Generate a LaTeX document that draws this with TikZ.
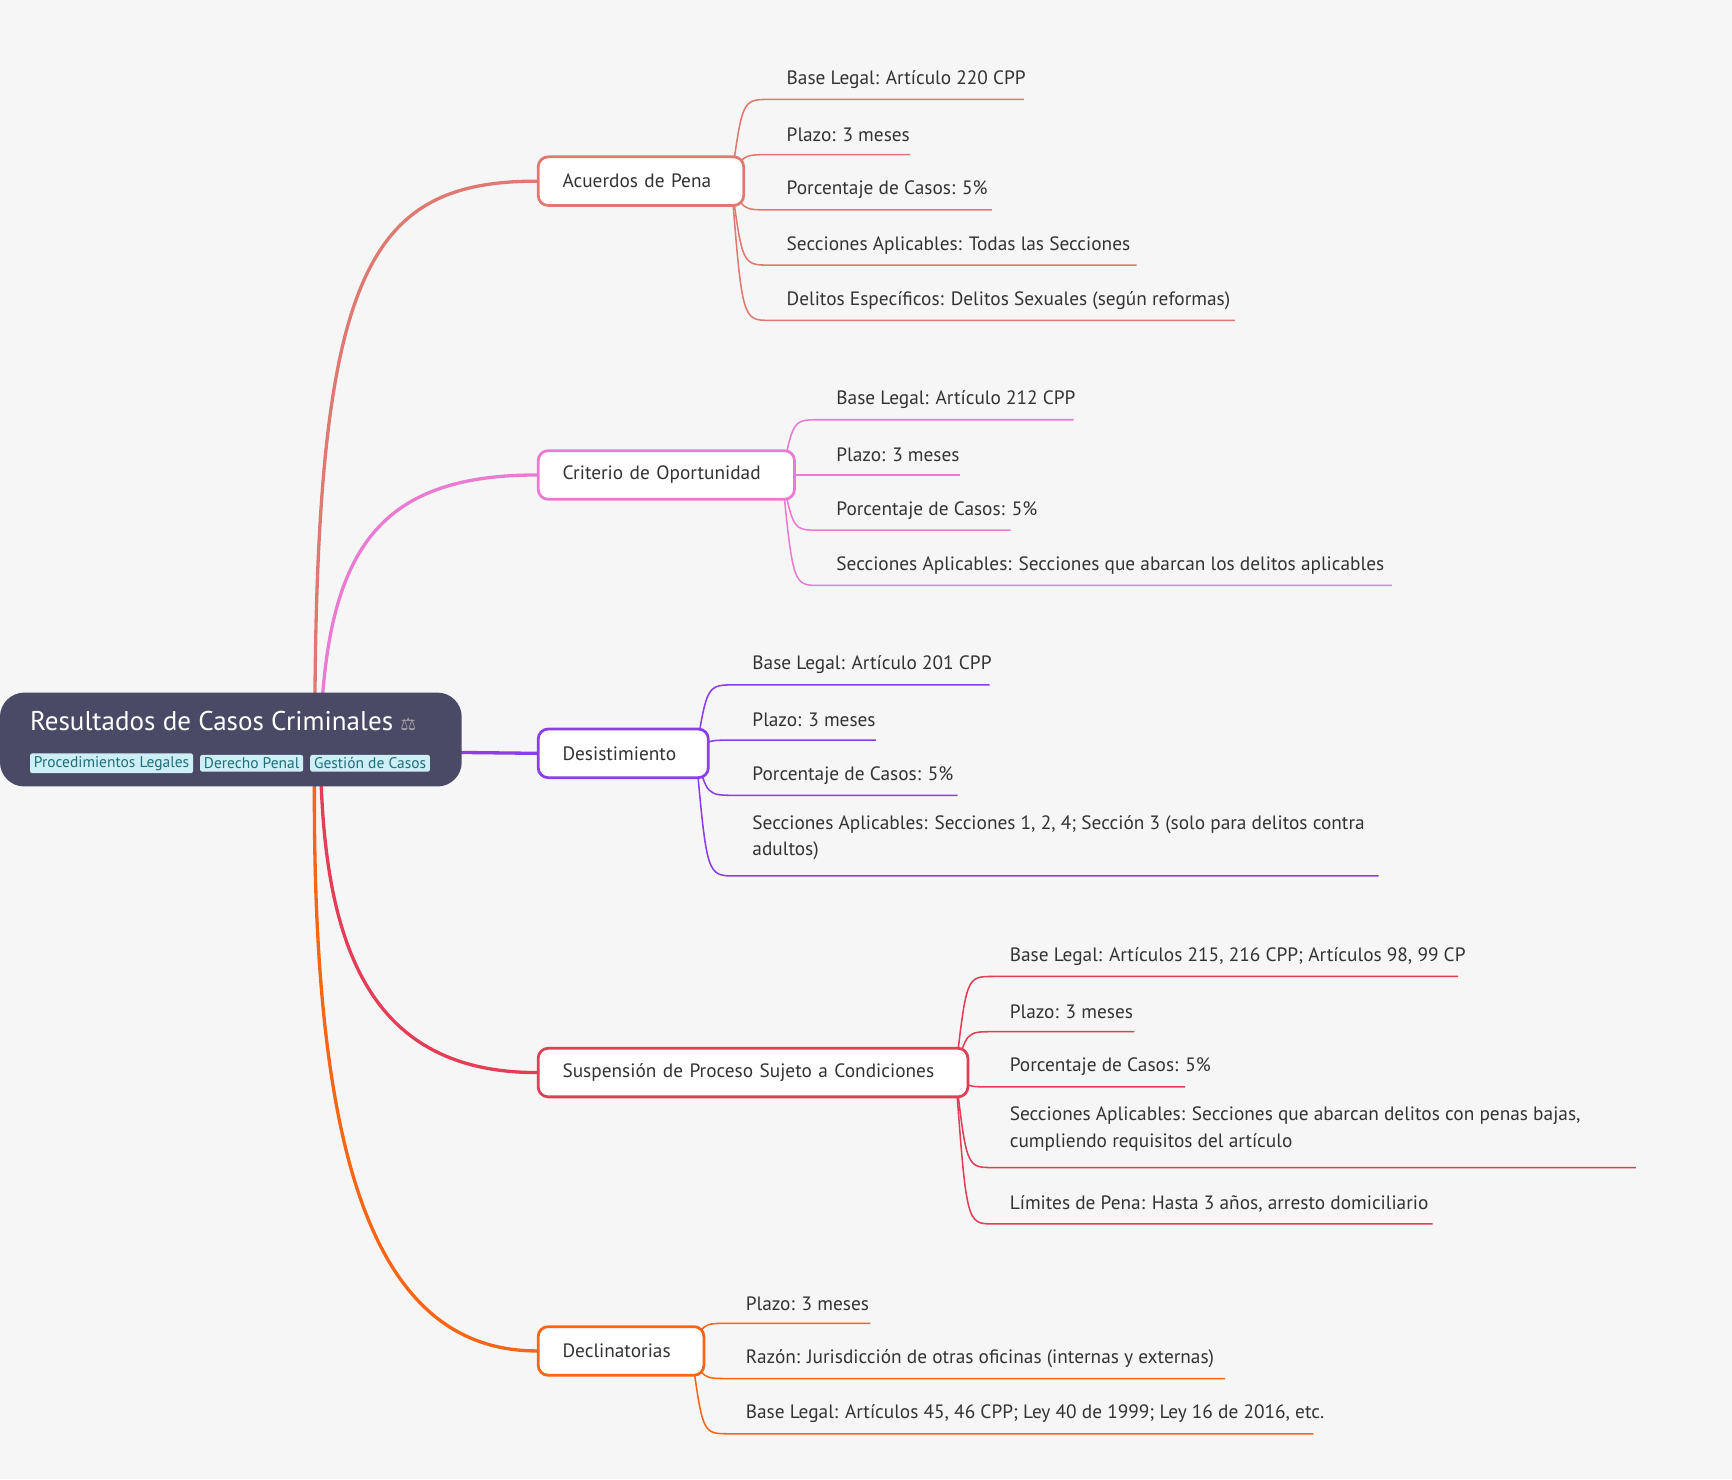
\documentclass[tikz,border=0pt]{standalone}
\usepackage{fontspec}
\setmainfont{PT Sans}
\newfontfamily\symfont{DejaVu Sans}
\definecolor{bg}{HTML}{F6F6F6}
\definecolor{rootc}{HTML}{4B4A66}
\definecolor{ca}{HTML}{DF7A72}
\definecolor{cb}{HTML}{E97CD2}
\definecolor{cc}{HTML}{8A3FE8}
\definecolor{cd}{HTML}{E23E57}
\definecolor{ce}{HTML}{F86514}
\definecolor{txt}{HTML}{333333}
\definecolor{tagbg}{HTML}{CDEFF5}
\definecolor{tagtx}{HTML}{1F6E7A}
\tikzset{
 branchbox/.style={draw=#1,fill=white,line width=2.5pt,rounded corners=9pt,minimum height=44pt,inner xsep=22pt,anchor=west,text=txt,align=left,font=\fontsize{17.5}{20}\selectfont},
 leaftext/.style={anchor=west,inner sep=0pt,text=txt,font=\fontsize{17.5}{24}\selectfont},
 mainline/.style={draw=#1,line width=3pt},
 leafline/.style={draw=#1,line width=1.4pt},
 tagbox/.style={fill=tagbg,text=tagtx,inner xsep=3.5pt,inner ysep=2.5pt,rounded corners=2pt,anchor=west,font=\fontsize{14}{15}\selectfont}
}
\newcommand{\leaf}[8]{% color, name, sx, sy, lx, ly, endx, text
 \node[leaftext] (#2) at (#5+15,#6-18) {#8};
 \draw[leafline=#1] (#3,#4) .. controls (#3+10,#6) .. (#5,#6) -- (#7,#6);
}
\begin{document}
\begin{tikzpicture}[x=1pt,y=-1pt]
\fill[bg] (0,0) rectangle (1568,1339);
% main connectors
\draw[mainline=ca] (285,669) .. controls (285,250) and (330,164) .. (486,164);
\draw[mainline=cb] (290,669) .. controls (295,500) and (340,430) .. (486,430);
\draw[mainline=cc] (400,681) -- (486,682);
\draw[mainline=cd] (290,669) .. controls (290,850) and (330,971) .. (486,971);
\draw[mainline=ce] (285,669) .. controls (280,1000) and (320,1223) .. (486,1223);
% root
\fill[rootc,rounded corners=22pt] (0,627) rectangle (418,712);
\node[anchor=west,inner sep=0pt,text=white,font=\fontsize{24.5}{28}\selectfont] (root) at (27,653) {Resultados de Casos Criminales {\symfont\fontsize{16}{18}\selectfont\color{gray!70} ⚖}};
\node[tagbox] (t1) at (27,691) {Procedimientos Legales};
\node[tagbox] (t2) at ([xshift=6pt]t1.east) {Derecho Penal};
\node[tagbox] (t3) at ([xshift=6pt]t2.east) {Gestión de Casos};
% leaves
\leaf{ca}{a1}{662}{164}{697}{90}{927}{Base Legal: Artículo 220 CPP}
\leaf{ca}{a2}{662}{164}{697}{140}{824}{Plazo: 3 meses}
\leaf{ca}{a3}{662}{164}{697}{190}{898}{Porcentaje de Casos: 5\%}
\leaf{ca}{a4}{662}{164}{697}{240}{1029}{Secciones Aplicables: Todas las Secciones}
\leaf{ca}{a5}{662}{164}{697}{290}{1118}{Delitos Específicos: Delitos Sexuales (según reformas)}
\leaf{cb}{b1}{708}{430}{742}{380}{972}{Base Legal: Artículo 212 CPP}
\leaf{cb}{b2}{708}{430}{742}{430}{869}{Plazo: 3 meses}
\leaf{cb}{b3}{708}{430}{742}{480}{915}{Porcentaje de Casos: 5\%}
\leaf{cb}{b4}{708}{430}{742}{530}{1260}{Secciones Aplicables: Secciones que abarcan los delitos aplicables}
\leaf{cc}{c1}{630}{682}{666}{620}{896}{Base Legal: Artículo 201 CPP}
\leaf{cc}{c2}{630}{682}{666}{670}{793}{Plazo: 3 meses}
\leaf{cc}{c3}{630}{682}{666}{720}{867}{Porcentaje de Casos: 5\%}
\draw[leafline=cc] (630,682) .. controls (640,793) .. (666,793) -- (1248,793);
\node[leaftext,anchor=north west,align=left] (c4) at (681,738) {Secciones Aplicables: Secciones 1, 2, 4; Sección 3 (solo para delitos contra\\adultos)};
\leaf{cd}{d1}{865}{971}{899}{884}{1320}{Base Legal: Artículos 215, 216 CPP; Artículos 98, 99 CP}
\leaf{cd}{d2}{865}{971}{899}{934}{1027}{Plazo: 3 meses}
\leaf{cd}{d3}{865}{971}{899}{984}{1073}{Porcentaje de Casos: 5\%}
\draw[leafline=cd] (865,971) .. controls (875,1057) .. (899,1057) -- (1481,1057);
\node[leaftext,anchor=north west,align=left] (d4) at (914,1002) {Secciones Aplicables: Secciones que abarcan delitos con penas bajas,\\cumpliendo requisitos del artículo};
\leaf{cd}{d5}{865}{971}{899}{1108}{1297}{Límites de Pena: Hasta 3 años, arresto domiciliario}
\leaf{ce}{e1}{626}{1223}{660}{1198}{788}{Plazo: 3 meses}
\leaf{ce}{e2}{626}{1223}{660}{1248}{1109}{Razón: Jurisdicción de otras oficinas (internas y externas)}
\leaf{ce}{e3}{626}{1223}{660}{1298}{1189}{Base Legal: Artículos 45, 46 CPP; Ley 40 de 1999; Ley 16 de 2016, etc.}
% branch nodes
\node[branchbox=ca,text width=142pt] (A) at (486,164) {Acuerdos de Pena};
\node[branchbox=cb,text width=188pt] (B) at (486,430) {Criterio de Oportunidad};
\node[branchbox=cc,text width=110pt] (C) at (486,682) {Desistimiento};
\node[branchbox=cd,text width=345pt] (D) at (486,971) {Suspensión de Proceso Sujeto a Condiciones};
\node[branchbox=ce,text width=106pt] (E) at (486,1223) {Declinatorias};
\end{tikzpicture}
\end{document}
